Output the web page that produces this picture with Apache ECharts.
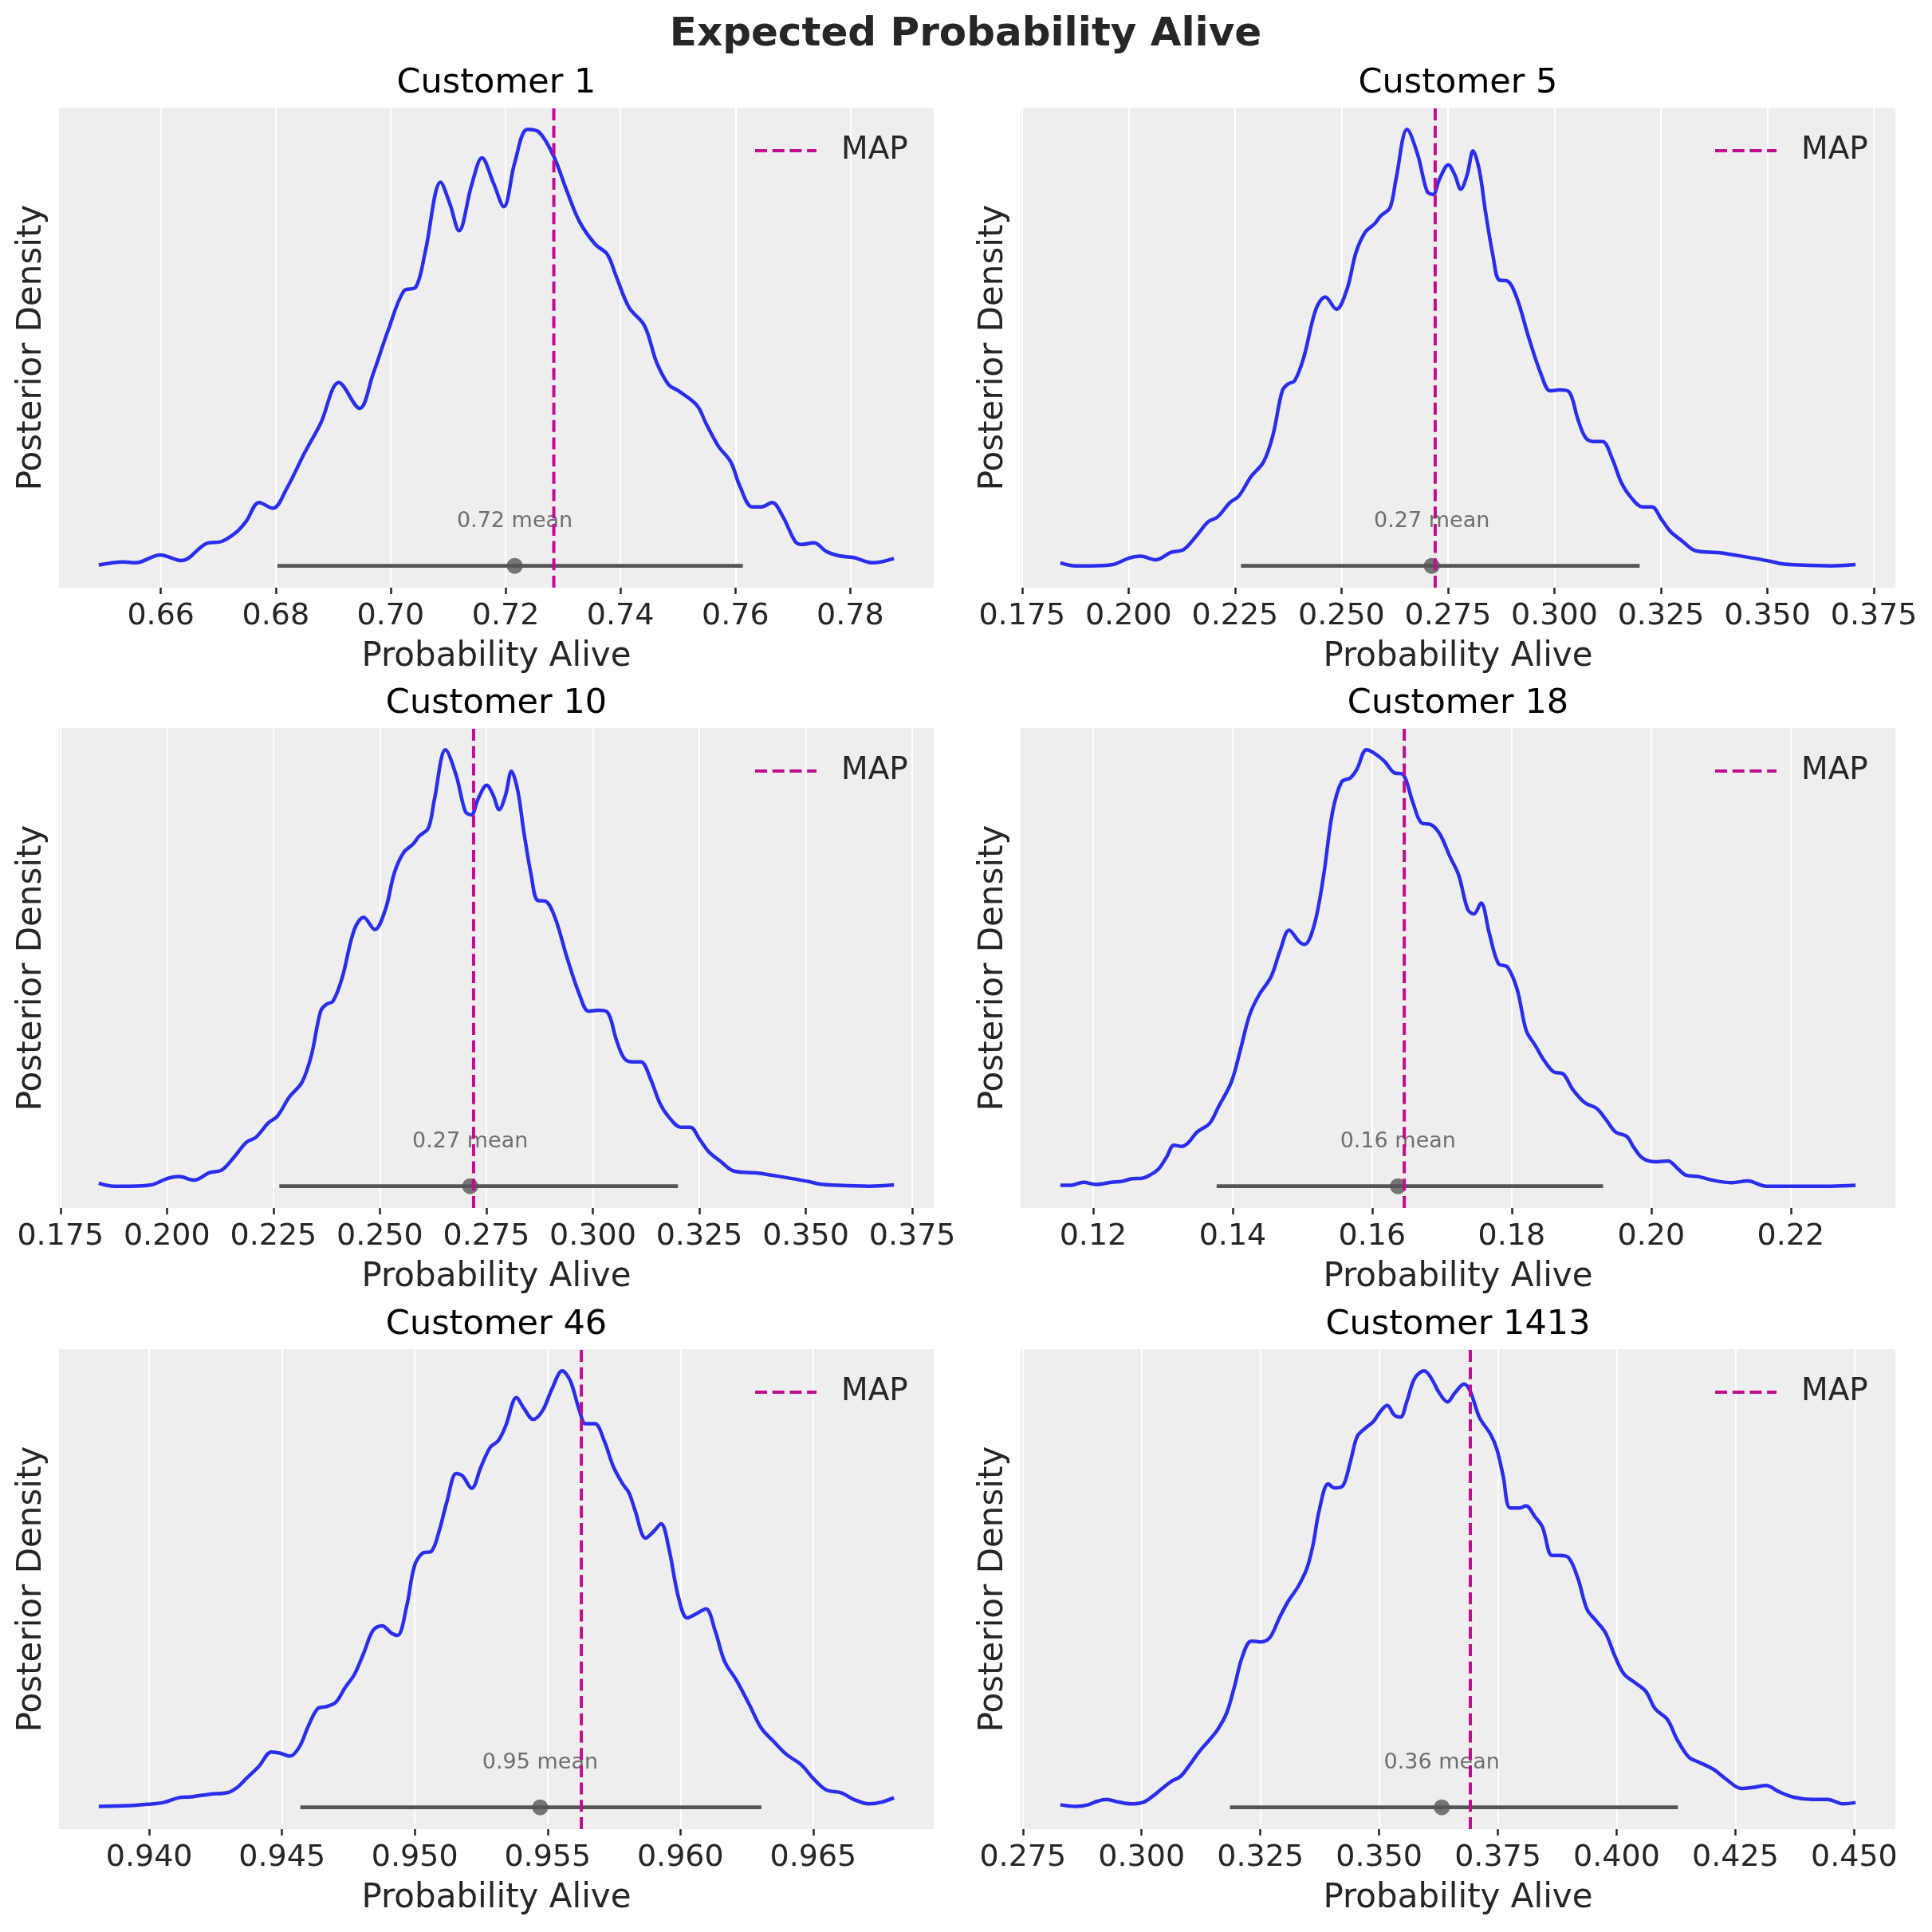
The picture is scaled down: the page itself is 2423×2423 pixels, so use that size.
<!DOCTYPE html>
<html>
<head>
<meta charset="utf-8">
<script src="https://cdn.jsdelivr.net/npm/echarts@6/dist/echarts.min.js"></script>
<style>
html, body { margin: 0; padding: 0; background: #ffffff; }
#chart { width: 2423px; height: 2423px; }
</style>
</head>
<body>
<div id="chart"></div>
<script>
// titles of the six panels
var customers = ['Customer 1', 'Customer 5', 'Customer 10', 'Customer 18', 'Customer 46', 'Customer 1413'];

// KDE curves (density in % of each panel's peak)
var kdeX1 = [0.6492,0.6535,0.6556,0.6599,0.6636,0.6679,0.6706,0.6733,0.6749,0.6771,0.6795,0.6819,0.6851,0.6878,0.6910,0.6946,0.6969,0.6996,0.7023,0.7044,0.7060,0.7087,0.7103,0.7119,0.7141,0.7159,0.7179,0.7197,0.7216,0.7238,0.7259,0.7284,0.7307,0.7329,0.7356,0.7377,0.7393,0.7415,0.7442,0.7463,0.7484,0.7501,0.7533,0.7549,0.7570,0.7592,0.7608,0.7629,0.7645,0.7664,0.7683,0.7704,0.7715,0.7737,0.7758,0.7780,0.7806,0.7839,0.7876];
var kdeY1 = [0.2,0.9,0.7,2.5,1.2,5.1,5.6,7.9,10.3,14.5,13.2,17.7,26.1,32.6,42.0,36.1,43.8,54.1,63.0,63.9,71.8,87.9,83.0,76.8,87.3,93.5,87.7,82.3,92.4,100,99.3,93.8,85.8,78.8,73.7,71.4,66.2,59.2,55.0,46.6,41.5,40.1,36.8,32.6,27.5,23.8,18.2,13.5,13.5,14.5,11.2,5.6,4.9,5.3,3.3,2.3,1.9,0.7,1.7];

var kdeX5 = [0.1840,0.1876,0.1912,0.1963,0.1999,0.2028,0.2064,0.2100,0.2129,0.2158,0.2187,0.2209,0.2238,0.2259,0.2288,0.2317,0.2339,0.2361,0.2375,0.2390,0.2411,0.2440,0.2462,0.2488,0.2513,0.2534,0.2556,0.2578,0.2592,0.2614,0.2628,0.2654,0.2679,0.2701,0.2715,0.2730,0.2751,0.2766,0.2780,0.2795,0.2809,0.2824,0.2838,0.2856,0.2870,0.2889,0.2911,0.2940,0.2969,0.2990,0.3012,0.3034,0.3055,0.3073,0.3092,0.3113,0.3135,0.3157,0.3178,0.3207,0.3229,0.3251,0.3272,0.3301,0.3330,0.3388,0.3446,0.3504,0.3533,0.3576,0.3649,0.3707];
var kdeY5 = [0.7,0,0,0.3,1.7,2.2,1.4,3.1,3.7,6.7,10.1,11.2,14.5,16.0,20.5,23.8,29.9,40.1,41.7,42.4,47.6,58.8,61.6,58.8,63.4,71.8,76.5,78.4,80.2,82.1,88.6,100,94.2,85.8,85.1,88.6,91.9,89.6,86.3,89.6,95.1,90.5,81.2,70.9,65.5,65.3,61.6,52.2,43.8,40.1,40.3,39.9,33.6,29.4,28.5,28.5,24.7,19.1,15.9,13.5,13.5,10.7,7.9,5.6,3.5,3.0,2.1,1.1,0.5,0.2,0,0.3];

var kdeX10 = [0.1840,0.1876,0.1912,0.1963,0.1999,0.2028,0.2064,0.2100,0.2129,0.2158,0.2187,0.2209,0.2238,0.2259,0.2288,0.2317,0.2339,0.2361,0.2375,0.2390,0.2411,0.2440,0.2462,0.2488,0.2513,0.2534,0.2556,0.2578,0.2592,0.2614,0.2628,0.2654,0.2679,0.2701,0.2715,0.2730,0.2751,0.2766,0.2780,0.2795,0.2809,0.2824,0.2838,0.2856,0.2870,0.2889,0.2911,0.2940,0.2969,0.2990,0.3012,0.3034,0.3055,0.3073,0.3092,0.3113,0.3135,0.3157,0.3178,0.3207,0.3229,0.3251,0.3272,0.3301,0.3330,0.3388,0.3446,0.3504,0.3533,0.3576,0.3649,0.3707];
var kdeY10 = [0.7,0,0,0.3,1.7,2.2,1.4,3.1,3.7,6.7,10.1,11.2,14.5,16.0,20.5,23.8,29.9,40.1,41.7,42.4,47.6,58.8,61.6,58.8,63.4,71.8,76.5,78.4,80.2,82.1,88.6,100,94.2,85.8,85.1,88.6,91.9,89.6,86.3,89.6,95.1,90.5,81.2,70.9,65.5,65.3,61.6,52.2,43.8,40.1,40.3,39.9,33.6,29.4,28.5,28.5,24.7,19.1,15.9,13.5,13.5,10.7,7.9,5.6,3.5,3.0,2.1,1.1,0.5,0.2,0,0.3];

var kdeX18 = [0.1153,0.1168,0.1186,0.1204,0.1226,0.1241,0.1256,0.1270,0.1283,0.1294,0.1305,0.1316,0.1327,0.1336,0.1349,0.1367,0.1380,0.1398,0.1411,0.1424,0.1437,0.1455,0.1468,0.1481,0.1495,0.1503,0.1517,0.1530,0.1543,0.1556,0.1569,0.1578,0.1592,0.1605,0.1618,0.1631,0.1644,0.1658,0.1671,0.1684,0.1697,0.1711,0.1724,0.1737,0.1746,0.1756,0.1768,0.1781,0.1794,0.1808,0.1821,0.1834,0.1847,0.1860,0.1874,0.1887,0.1905,0.1922,0.1935,0.1949,0.1965,0.1975,0.1988,0.2006,0.2024,0.2037,0.2050,0.2068,0.2090,0.2116,0.2138,0.2165,0.2213,0.2257,0.2293];
var kdeY18 = [0.2,0.2,0.9,0.4,0.9,1.1,1.7,1.8,2.7,4.0,6.6,9.4,9.1,9.9,12.4,14.4,18.3,23.8,31.2,39.1,43.6,48.0,54.0,58.7,56.1,55.4,59.9,70.8,85.6,92.6,93.6,95.5,100,99.0,97.3,94.8,94.4,88.1,83.2,82.9,80.7,75.7,71.3,63.4,62.4,64.9,57.9,51.0,50.2,45.0,35.6,32.2,28.7,26.2,25.7,22.3,19.1,17.8,15.3,12.4,11.4,8.9,6.4,5.6,5.8,4.2,2.5,2.2,1.3,0.8,1.2,0,0,0,0.2];

var kdeX46 = [0.93810,0.93926,0.93995,0.94053,0.94111,0.94158,0.94227,0.94297,0.94332,0.94367,0.94413,0.94460,0.94494,0.94529,0.94564,0.94599,0.94634,0.94669,0.94703,0.94738,0.94773,0.94808,0.94843,0.94877,0.94912,0.94935,0.94970,0.94998,0.95028,0.95063,0.95091,0.95121,0.95156,0.95179,0.95214,0.95249,0.95284,0.95314,0.95342,0.95383,0.95411,0.95446,0.95481,0.95516,0.95555,0.95585,0.95620,0.95643,0.95678,0.95713,0.95748,0.95783,0.95806,0.95829,0.95869,0.95899,0.95927,0.95957,0.95992,0.96026,0.96061,0.96096,0.96131,0.96166,0.96212,0.96259,0.96305,0.96351,0.96398,0.96456,0.96502,0.96549,0.96607,0.96653,0.96711,0.96758,0.96804];
var kdeY46 = [0.2,0.4,0.7,1.1,2.2,2.4,3.0,3.4,4.6,6.7,9.4,12.7,12.4,11.7,13.7,18.6,22.6,23.1,24.1,27.5,30.5,35.4,40.6,41.6,39.9,39.4,46.3,55.2,58.2,58.7,63.2,70.1,76.5,76.0,73.1,78.0,82.5,84.0,87.4,93.9,91.4,88.9,90.9,95.8,100,97.8,90.9,87.9,87.9,84.0,78.0,74.1,72.1,68.1,61.7,63.2,65.0,59.2,48.3,43.4,44.4,45.5,40.4,33.5,29.0,23.6,18.1,15.1,12.2,9.7,6.5,4.0,3.3,1.8,0.8,1.2,2.2];

var kdeX1413 = [0.2829,0.2862,0.2888,0.2907,0.2926,0.2952,0.2978,0.3004,0.3024,0.3043,0.3062,0.3082,0.3101,0.3121,0.3140,0.3160,0.3179,0.3195,0.3212,0.3231,0.3251,0.3270,0.3290,0.3309,0.3329,0.3348,0.3361,0.3374,0.3393,0.3406,0.3423,0.3439,0.3454,0.3471,0.3488,0.3504,0.3517,0.3532,0.3545,0.3558,0.3575,0.3595,0.3610,0.3627,0.3644,0.3659,0.3679,0.3692,0.3711,0.3735,0.3748,0.3761,0.3776,0.3796,0.3809,0.3828,0.3844,0.3864,0.3880,0.3899,0.3919,0.3938,0.3958,0.3977,0.3997,0.4016,0.4042,0.4062,0.4081,0.4107,0.4127,0.4152,0.4172,0.4204,0.4230,0.4263,0.4289,0.4315,0.4341,0.4373,0.4412,0.4444,0.4477,0.4503];
var kdeY1413 = [0.6,0.2,0.6,1.4,1.8,1.2,0.8,1.2,2.6,4.3,5.9,7.1,9.7,12.7,15.1,17.8,21.6,27.5,34.5,38.1,37.9,38.9,43.4,47.3,50.5,54.8,60.2,68.1,74.1,73.2,73.6,79.0,85.0,86.9,88.4,90.9,92.1,89.9,89.4,92.9,98.3,100,98.3,94.9,92.9,94.9,97.0,95.3,89.4,85.4,82.0,76.0,68.6,68.6,69.1,66.6,64.2,57.7,57.7,57.2,52.3,45.3,42.6,39.9,34.5,30.5,28.3,26.5,22.6,20.1,15.6,11.5,10.4,8.7,6.5,4.3,4.6,5.0,3.6,2.3,1.8,1.8,0.8,1.1];

// point estimates per customer
var mapValues  = [0.7284, 0.2720, 0.2720, 0.1646, 0.95627, 0.3692];
var meanValues = [0.7216, 0.2712, 0.2712, 0.1637, 0.95472, 0.3632];
var hdiLow     = [0.6803, 0.2264, 0.2264, 0.1377, 0.94569, 0.3186];
var hdiHigh    = [0.7613, 0.3200, 0.3200, 0.1931, 0.96305, 0.4129];

// x tick labels
var ticks1    = [0.66, 0.68, 0.70, 0.72, 0.74, 0.76, 0.78];
var ticks5    = [0.175, 0.200, 0.225, 0.250, 0.275, 0.300, 0.325, 0.350, 0.375];
var ticks10   = [0.175, 0.200, 0.225, 0.250, 0.275, 0.300, 0.325, 0.350, 0.375];
var ticks18   = [0.12, 0.14, 0.16, 0.18, 0.20, 0.22];
var ticks46   = [0.940, 0.945, 0.950, 0.955, 0.960, 0.965];
var ticks1413 = [0.275, 0.300, 0.325, 0.350, 0.375, 0.400, 0.425, 0.450];
var tickDecimals = [2, 3, 3, 2, 3, 3];

var kdeXs = [kdeX1, kdeX5, kdeX10, kdeX18, kdeX46, kdeX1413];
var kdeYs = [kdeY1, kdeY5, kdeY10, kdeY18, kdeY46, kdeY1413];
var tickSets = [ticks1, ticks5, ticks10, ticks18, ticks46, ticks1413];

var FONT = 'DejaVu Sans';
var TEXT = '#262626';
var gridLefts = [74, 1280];
var gridTops = [135, 913, 1692];
var gridW = 1097, gridH = 602;
var legendLefts = [945, 2149];

var grids = [], xAxes = [], yAxes = [], titles = [], legends = [], series = [];

titles.push({
    text: 'Expected Probability Alive',
    left: 1211, top: 19, textAlign: 'center', padding: 0,
    textStyle: { fontFamily: FONT, fontWeight: 'bold', fontSize: 50, lineHeight: 50, color: TEXT }
});

function zip(a, b) {
    var out = [];
    for (var k = 0; k < a.length; k++) out.push([a[k], b[k]]);
    return out;
}

function addPanel(i) {
    var col = i % 2, row = Math.floor(i / 2);
    var gLeft = gridLefts[col], gTop = gridTops[row];
    var xs = kdeXs[i], ys = kdeYs[i];
    var span = xs[xs.length - 1] - xs[0];
    var peak = Math.max.apply(null, ys);
    var yMin = -0.05 * peak, yMax = 1.05 * peak;
    var dec = tickDecimals[i];

    grids.push({ left: gLeft, top: gTop, width: gridW, height: gridH, show: true,
        backgroundColor: '#eeeeee', borderWidth: 0 });

    titles.push({
        text: customers[i], left: gLeft + gridW / 2, top: gTop - 52, textAlign: 'center', padding: 0,
        textStyle: { fontFamily: FONT, fontWeight: 'normal', fontSize: 43, lineHeight: 43, color: '#000000' }
    });

    xAxes.push({
        gridIndex: i, type: 'value',
        min: xs[0] - 0.05 * span, max: xs[xs.length - 1] + 0.05 * span,
        name: 'Probability Alive', nameLocation: 'middle', nameGap: 66,
        nameTextStyle: { fontFamily: FONT, fontSize: 42, lineHeight: 42, color: TEXT },
        axisLine: { show: false, onZero: false },
        axisTick: { show: true, inside: false, length: 8, customValues: tickSets[i],
            lineStyle: { color: TEXT, width: 2.5 } },
        axisLabel: { customValues: tickSets[i], margin: 17,
            fontFamily: FONT, fontSize: 38, lineHeight: 38, color: TEXT,
            formatter: function (v) { return Number(v).toFixed(dec); } },
        splitLine: { show: true, lineStyle: { color: '#ffffff', width: 2 } }
    });

    yAxes.push({
        gridIndex: i, type: 'value', min: yMin, max: yMax,
        name: 'Posterior Density', nameLocation: 'middle', nameRotate: 90, nameGap: 13,
        nameTextStyle: { fontFamily: FONT, fontSize: 42, lineHeight: 42, color: TEXT },
        axisLine: { show: false }, axisTick: { show: false }, axisLabel: { show: false },
        splitLine: { show: false }
    });

    legends.push({
        left: legendLefts[col], top: gTop + 31, padding: 0,
        itemWidth: 77, itemHeight: 46, selectedMode: false,
        data: ['MAP'],
        itemStyle: { opacity: 0 },
        lineStyle: { width: 4, opacity: 1 },
        textStyle: { fontFamily: FONT, fontSize: 39, lineHeight: 46, color: TEXT, padding: [0, 0, 0, 26] }
    });

    // kde curve
    series.push({
        type: 'line', xAxisIndex: i, yAxisIndex: i, data: zip(xs, ys),
        smooth: 0.35, symbol: 'none', z: 2,
        lineStyle: { color: '#2a2eec', width: 4.5 }
    });
    // hdi interval
    series.push({
        type: 'line', xAxisIndex: i, yAxisIndex: i,
        data: [[hdiLow[i], 0], [hdiHigh[i], 0]],
        symbol: 'none', z: 3,
        lineStyle: { color: '#555555', width: 4.6 }
    });
    // mean point
    series.push({
        type: 'scatter', xAxisIndex: i, yAxisIndex: i,
        data: [[meanValues[i], 0]], symbolSize: 20, z: 4,
        itemStyle: { color: '#555555' }
    });
    // mean text
    series.push({
        type: 'scatter', xAxisIndex: i, yAxisIndex: i,
        data: [[meanValues[i], 0.101 * peak]], symbolSize: 1, z: 5,
        itemStyle: { color: 'rgba(0,0,0,0)' },
        label: { show: true, position: 'inside', fontFamily: FONT, fontSize: 27, color: '#4d4d4d',
            formatter: meanValues[i].toFixed(2) + ' mean' }
    });
    // MAP line
    series.push({
        name: 'MAP', type: 'line', xAxisIndex: i, yAxisIndex: i,
        data: [[mapValues[i], yMin], [mapValues[i], yMax]],
        symbol: 'none', z: 6,
        lineStyle: { color: '#c10c90', width: 4, type: [15, 6.7] },
        itemStyle: { color: '#c10c90' }
    });
}

for (var p = 0; p < customers.length; p++) addPanel(p);

var myChart = echarts.init(document.getElementById('chart'), null, { renderer: 'canvas', width: 2423, height: 2423 });
myChart.setOption({
    animation: false,
    backgroundColor: '#ffffff',
    title: titles,
    legend: legends,
    grid: grids,
    xAxis: xAxes,
    yAxis: yAxes,
    series: series
});
</script>
</body>
</html>
